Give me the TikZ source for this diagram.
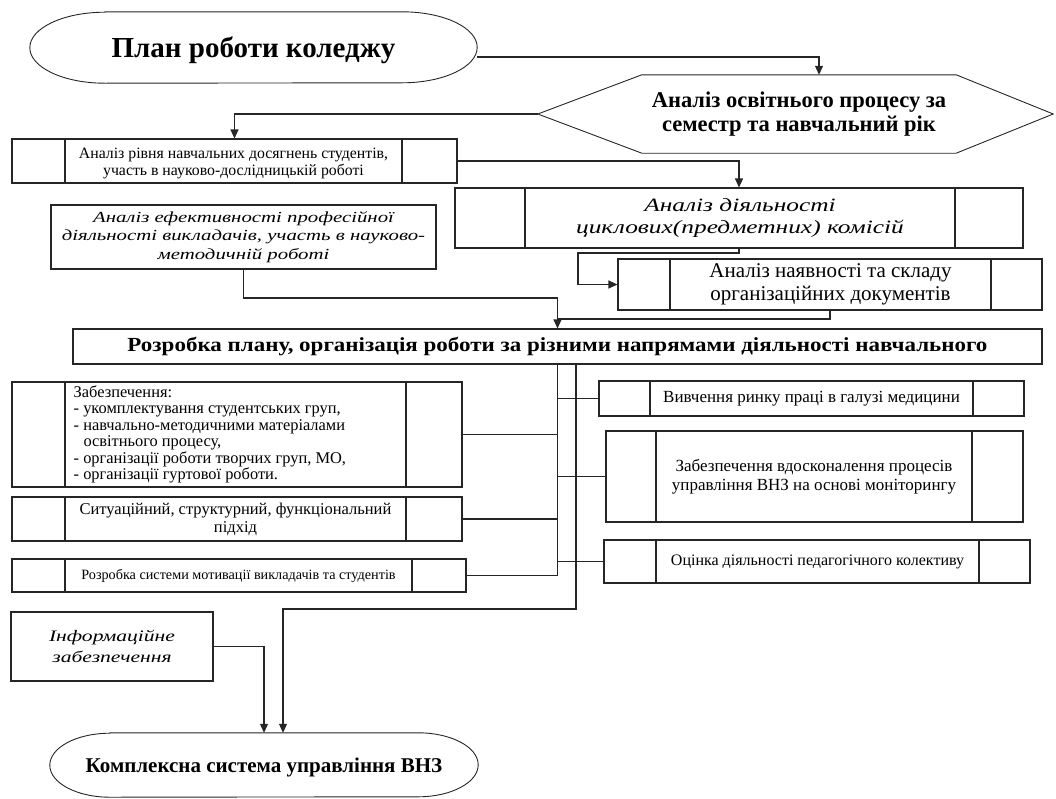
\documentclass[tikz,border=0pt]{standalone}
\usepackage{fontspec}
\setmainfont{Liberation Serif}
\newfontfamily\itwide[FakeStretch=1.35]{Liberation Serif}
\newfontfamily\bfwide[FakeStretch=1.15]{Liberation Serif}
\usetikzlibrary{arrows.meta}
\tikzset{
  ln/.style={draw=black!85, line width=1.1pt},
  arr/.style={ln, -{Triangle[length=9pt,width=8pt]}},
  boxn/.style={draw=black!85, line width=1.1pt, inner sep=0pt, rectangle},
  ghost/.style={inner sep=0pt, rectangle},
  txt/.style={inner sep=0pt, align=center}
}
% name, x1, y1, x2, y2, d1, d2, text options, text
\newcommand\dbox[9]{%
  \node[boxn, minimum width={#4-#2}, minimum height={#5-#3}] (#1) at ({(#2+#4)/2},{(#3+#5)/2}) {};
  \draw[ln] (#6,#3) -- (#6,#5) (#7,#3) -- (#7,#5);
  \node[txt,#8] (#1t) at ({(#6+#7)/2},{(#3+#5)/2}) {#9};
}
\newcommand\fs[2]{\fontsize{#1}{#2}\selectfont}
\begin{document}
\begin{tikzpicture}[x=1pt,y=-1pt]
\useasboundingbox (0,0) rectangle (1056,798);

% top terminal
\node[ghost, minimum width=447pt, minimum height=71pt] (top) at (253.5,47.5) {};
\node[txt, font=\fs{29}{33}\bfseries] (topt) at (253.5,50) {План роботи коледжу};
\draw[ln, line width=0.9pt] ([xshift=75pt]top.north west) -- ([xshift=-75pt]top.north east)
  arc[start angle=90, end angle=-90, x radius=75pt, y radius=35.5pt]
  -- ([xshift=75pt]top.south west)
  arc[start angle=270, end angle=90, x radius=75pt, y radius=35.5pt] -- cycle;

% hexagon
\node[ghost, minimum width=515pt, minimum height=78pt, align=center, font=\fs{22.5}{24}\bfseries] (hex) at (795.5,114) {\hspace*{7pt}Аналіз освітнього процесу за\\\hspace*{7pt}семестр та навчальний рік};
\draw[ln, line width=0.9pt] (hex.west) -- ([xshift=104pt]hex.north west) -- ([xshift=-97pt]hex.north east)
  -- (hex.east) -- ([xshift=-97pt]hex.south east) -- ([xshift=104pt]hex.south west) -- cycle;

% upper boxes
\dbox{b1}{12}{139}{457}{183}{65}{402}{yshift=-2.5pt, font=\fs{15.8}{17}}{Аналіз рівня навчальних досягнень студентів,\\ участь в науково-дослідницькій роботі}
\node[boxn, minimum width=385pt, minimum height=64pt, align=center, font=\itwide\itshape\fs{15.4}{18.5}] (ib) at (243.5,237) {Аналіз ефективності професійної\\ діяльності викладачів, участь в науково-\\ методичній роботі};
\dbox{b2}{455}{188}{1023}{248}{525}{955}{font=\itwide\itshape\fs{18.8}{22}}{Аналіз діяльності\\ циклових(предметних) комісій}
\dbox{b3}{618}{259}{1042}{310}{670}{991}{font=\fs{21}{22.5}}{Аналіз наявності та складу\\ організаційних документів}

\node[boxn, minimum width=969pt, minimum height=35pt, font=\bfwide\bfseries\fs{20}{24}] (big) at (557.5,346.5) {Розробка плану, організація роботи за різними напрямами діяльності навчального};

% lower left boxes
\dbox{L1}{12}{382}{462}{487}{65}{406}{anchor=west, xshift=-162pt, align=left, font=\fs{16.4}{16.5}}{Забезпечення:\\
- укомплектування студентських груп,\\
- навчально-методичними матеріалами\\
\hspace*{0.6em}освітнього процесу,\\
- організації роботи творчих груп, МО,\\
- організації гуртової роботи.}
\dbox{L2}{12}{497}{462}{541}{65}{406}{font=\fs{16.5}{18}}{Ситуаційний, структурний, функціональний\\ підхід}
\dbox{L3}{12}{559}{466}{592}{65}{412}{font=\fs{14.2}{16}}{Розробка системи мотивації викладачів та студентів}

% lower right boxes
\dbox{R1}{599}{381}{1024}{416}{650}{973}{font=\fs{17}{19}}{Вивчення ринку праці в галузі медицини}
\dbox{R2}{606}{431}{1023}{522}{656}{972}{font=\fs{17}{19}}{Забезпечення вдосконалення процесів\\ управління ВНЗ на основі моніторингу}
\dbox{R3}{604}{540}{1030}{583}{656}{979}{font=\fs{16}{18}}{Оцінка діяльності педагогічного колективу}

% info box
\node[boxn, minimum width=202pt, minimum height=69pt, align=center, font=\itwide\itshape\fs{16}{21}] (info) at (112,646.5) {Інформаційне\\ забезпечення};

% bottom terminal
\node[ghost, minimum width=428pt, minimum height=64pt] (bot) at (264,765) {};
\node[txt, font=\fs{21}{24}\bfseries] (bott) at (264,767) {Комплексна система управління ВНЗ};
\draw[ln, line width=0.9pt] ([xshift=60pt]bot.north west) -- ([xshift=-60pt]bot.north east)
  arc[start angle=90, end angle=-90, x radius=60pt, y radius=32pt]
  -- ([xshift=60pt]bot.south west)
  arc[start angle=270, end angle=90, x radius=60pt, y radius=32pt] -- cycle;

% coordinates for bends
\coordinate (c1) at (578,253);
\coordinate (c2) at (557.5,298);
\coordinate (c3) at (557.5,319);
\coordinate (cT) at (576,609);

% connectors
\draw[arr] ([yshift=-9.5pt]top.east) -| ([xshift=23.5pt]hex.north);
\draw[arr] (hex.west) -| (b1.north);
\draw[arr] (b1.east) -| (b2.north);
\draw[arr] (b2.south) |- (c1) |- (b3.west);
\draw[arr] (ib.south) |- (c2) -- (big.north);
\draw[ln] (b3.south) |- (c3);

\draw[ln] (big.south) -- (big.south |- L3.east) -- (L3.east);
\draw[ln] (L1.east) -- (L1.east -| big.south);
\draw[ln] (L2.east) -- (L2.east -| big.south);
\draw[ln] (R1.west) -- (R1.west -| big.south);
\draw[ln] (R2.west) -- (R2.west -| big.south);
\draw[ln] (R3.west) -- (R3.west -| big.south);

\draw[arr] ([xshift=18.5pt]big.south) -- (cT) -| ([xshift=19pt]bot.north);
\draw[arr] (info.east) -| (bot.north);
\end{tikzpicture}
\end{document}
